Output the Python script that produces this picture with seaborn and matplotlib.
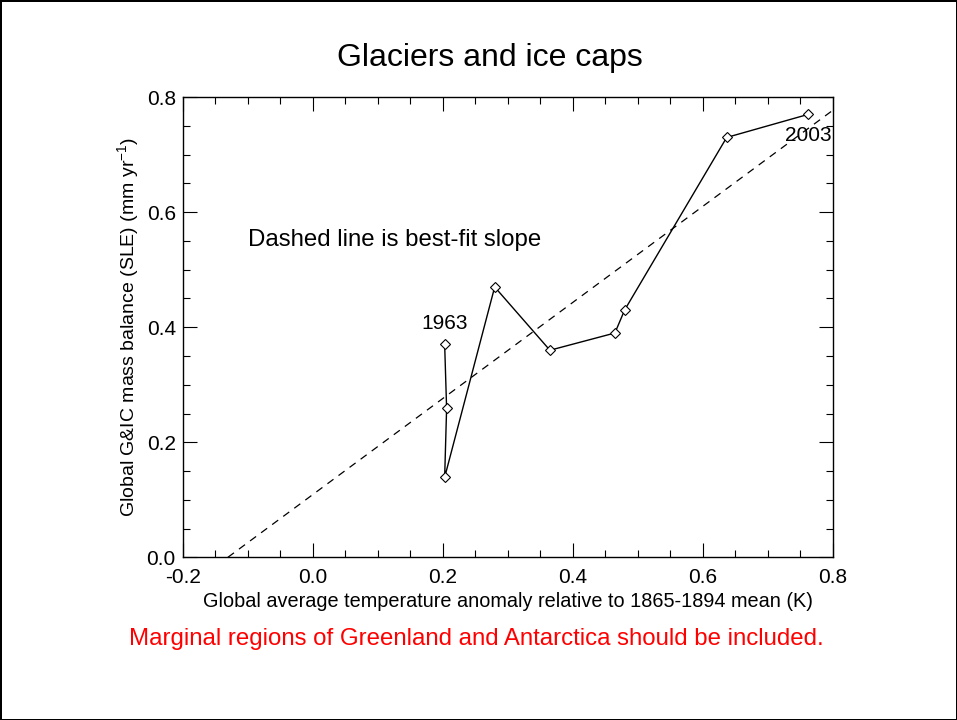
import matplotlib
matplotlib.use("Agg")
import matplotlib.pyplot as plt
from matplotlib.ticker import MultipleLocator, FormatStrFormatter
import seaborn as sns
import pandas as pd

years = [1963, 1968, 1973, 1978, 1983, 1988, 1993, 1998, 2003]
temp_anomaly = [0.203, 0.206, 0.203, 0.280, 0.365, 0.465, 0.480, 0.637, 0.762]
mass_balance = [0.370, 0.259, 0.139, 0.470, 0.360, 0.390, 0.430, 0.730, 0.770]
fit_intercept = 0.109
fit_slope = 0.835

df = pd.DataFrame({"year": years, "temp": temp_anomaly, "mb": mass_balance})

sns.set_theme(style="white")
plt.rcParams["font.family"] = ["Liberation Sans", "DejaVu Sans"]
plt.rcParams["text.color"] = "black"

fig = plt.figure(figsize=(9.57, 7.2), dpi=100, edgecolor="black", linewidth=2)
ax = fig.add_axes([0.191, 0.226, 0.679, 0.639])

sns.lineplot(data=df, x="temp", y="mb", sort=False, estimator=None, ax=ax, color="black",
             linewidth=1, marker="D", markersize=5, markerfacecolor="white",
             markeredgecolor="black", markeredgewidth=0.8)
ax.axline((0, fit_intercept), slope=fit_slope, color="black", linestyle=(0, (6, 5)),
          linewidth=0.9)

ax.set_xlim(-0.2, 0.8)
ax.set_ylim(0.0, 0.8)
ax.xaxis.set_major_locator(MultipleLocator(0.2))
ax.xaxis.set_minor_locator(MultipleLocator(0.05))
ax.yaxis.set_major_locator(MultipleLocator(0.2))
ax.yaxis.set_minor_locator(MultipleLocator(0.05))
ax.xaxis.set_major_formatter(FormatStrFormatter("%.1f"))
ax.yaxis.set_major_formatter(FormatStrFormatter("%.1f"))
ax.tick_params(which="both", direction="in", top=True, right=True, bottom=True, left=True,
               color="black", width=0.8, labelsize=15, labelcolor="black")
ax.tick_params(which="major", length=10, pad=5)
ax.tick_params(axis="x", which="major", pad=8)
ax.tick_params(which="minor", length=5)
for s in ax.spines.values():
    s.set_color("black")
    s.set_linewidth(1)

ax.set_xlabel("Global average temperature anomaly relative to 1865-1894 mean (K)",
              fontsize=14.3, labelpad=3, color="black")
ax.set_ylabel("Global G&IC mass balance (SLE) (mm yr$^{\\mathregular{-1}}$)",
              fontsize=14, labelpad=3, color="black")

ax.text(df["temp"].iloc[0], df["mb"].iloc[0] + 0.02, str(years[0]), ha="center",
        va="bottom", fontsize=15)
ax.text(df["temp"].iloc[-1], df["mb"].iloc[-1] - 0.02, str(years[-1]), ha="center",
        va="top", fontsize=15)
ax.text(-0.1, 0.533, "Dashed line is best-fit slope", fontsize=17.3, ha="left", va="bottom")

fig.text(0.512, 0.92, "Glaciers and ice caps", ha="center", va="center", fontsize=23)
fig.text(0.498, 0.112, "Marginal regions of Greenland and Antarctica should be included.",
         ha="center", va="center", fontsize=17.3, color="red")

fig.savefig("out.png", dpi=100, edgecolor=fig.get_edgecolor())
